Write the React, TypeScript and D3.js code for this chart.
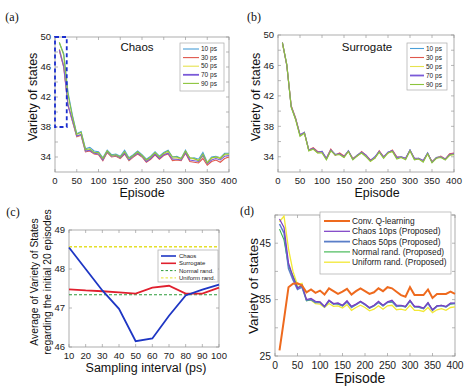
import React, { useRef, useEffect } from 'react';
import * as d3 from 'd3';

// episodes sampled every 10
const episodes = [10, 20, 30, 40, 50, 60, 70, 80, 90, 100, 110, 120, 130, 140, 150, 160, 170, 180, 190, 200,
  210, 220, 230, 240, 250, 260, 270, 280, 290, 300, 310, 320, 330, 340, 350, 360, 370, 380, 390, 400];

// (a) chaos
const chaos10 = [49.2, 47.8, 42.6, 39.6, 37.1, 37.4, 35.1, 35.3, 34.8, 34.7, 33.9, 34.9, 34.3, 34.4, 34.1, 34.9, 33.9, 34.3, 34.8, 34.3,
  33.7, 34.1, 34.7, 34.1, 34.6, 34.9, 34.0, 34.1, 33.8, 34.9, 33.8, 33.9, 33.7, 34.6, 33.3, 34.0, 34.1, 33.9, 34.5, 34.5];
const chaos30 = [48.2, 46.0, 40.8, 38.8, 36.7, 36.9, 34.7, 34.8, 34.4, 34.3, 33.5, 34.6, 34.0, 34.1, 33.8, 34.4, 33.5, 34.0, 34.4, 34.0,
  33.3, 33.7, 34.3, 33.7, 34.2, 34.4, 33.5, 33.6, 33.5, 34.5, 33.4, 33.3, 33.2, 33.8, 32.9, 33.4, 33.6, 33.3, 33.8, 34.0];
const chaos50 = [48.4, 46.3, 41.0, 38.9, 36.8, 37.0, 34.8, 35.0, 34.5, 34.4, 33.7, 34.7, 34.1, 34.2, 33.9, 34.6, 33.6, 34.1, 34.6, 34.1,
  33.5, 33.9, 34.5, 33.9, 34.4, 34.6, 33.8, 33.9, 33.7, 34.7, 33.9, 33.7, 33.6, 34.1, 33.3, 33.8, 34.0, 33.9, 34.3, 34.3];
const chaos70 = [48.3, 46.1, 40.9, 38.9, 36.8, 37.0, 34.8, 34.9, 34.5, 34.4, 33.6, 34.7, 34.1, 34.2, 33.9, 34.5, 33.6, 34.1, 34.5, 34.1,
  33.4, 33.8, 34.4, 33.8, 34.3, 34.5, 33.7, 33.7, 33.6, 34.6, 33.6, 33.5, 33.4, 34.2, 33.1, 33.6, 33.8, 33.6, 34.1, 34.2];
const chaos90 = [49.3, 47.6, 42.3, 39.4, 37.0, 37.3, 35.0, 35.1, 34.6, 34.6, 33.8, 34.8, 34.2, 34.3, 34.0, 34.7, 33.8, 34.2, 34.7, 34.2,
  33.6, 34.0, 34.6, 34.0, 34.5, 34.8, 34.0, 34.0, 33.8, 34.8, 33.9, 33.8, 33.5, 34.4, 33.2, 33.9, 34.0, 33.8, 34.4, 34.4];

// (b) surrogate
const surr10 = [49.0, 46.1, 40.6, 39.0, 36.8, 37.2, 34.8, 35.1, 34.6, 34.7, 33.7, 34.9, 34.3, 34.4, 34.0, 34.8, 33.7, 34.2, 34.6, 34.1,
  33.5, 33.9, 34.7, 33.9, 34.6, 34.8, 33.9, 34.0, 33.7, 34.9, 33.7, 33.8, 33.4, 34.5, 33.3, 33.9, 34.0, 33.6, 34.3, 34.4];
const surr30 = [49.0, 46.0, 40.7, 39.1, 36.9, 37.1, 34.9, 35.2, 34.7, 34.6, 33.8, 35.0, 34.2, 34.5, 34.1, 34.7, 33.8, 34.1, 34.7, 34.2,
  33.6, 33.8, 34.8, 34.0, 34.5, 34.9, 34.0, 33.9, 33.8, 34.8, 33.8, 33.7, 33.5, 34.4, 33.4, 33.8, 34.1, 33.7, 34.4, 34.5];
const surr50 = [48.9, 46.1, 40.6, 38.9, 36.8, 37.2, 34.8, 35.0, 34.5, 34.6, 33.7, 34.8, 34.3, 34.3, 33.9, 34.7, 33.7, 34.2, 34.5, 34.1,
  33.4, 33.9, 34.6, 33.9, 34.5, 34.7, 33.8, 34.0, 33.7, 34.8, 33.7, 33.8, 33.4, 34.4, 33.3, 33.9, 34.0, 33.6, 34.2, 34.3];
const surr70 = [49.0, 46.0, 40.6, 39.0, 36.9, 37.2, 34.9, 35.1, 34.6, 34.7, 33.8, 34.9, 34.3, 34.4, 34.0, 34.8, 33.7, 34.2, 34.6, 34.2,
  33.5, 34.0, 34.7, 34.0, 34.6, 34.8, 33.9, 34.0, 33.8, 34.9, 33.8, 33.8, 33.5, 34.5, 33.3, 33.9, 34.0, 33.7, 34.3, 34.4];
const surr90 = [49.0, 46.1, 40.5, 38.9, 36.7, 37.1, 34.8, 35.0, 34.5, 34.5, 33.6, 34.8, 34.2, 34.3, 33.9, 34.7, 33.6, 34.1, 34.5, 34.0,
  33.4, 33.8, 34.6, 33.8, 34.5, 34.7, 33.7, 33.9, 33.6, 34.8, 33.6, 33.7, 33.3, 34.4, 33.2, 33.8, 33.9, 33.6, 34.2, 34.3];

// (c) average over the initial 20 episodes
const intervals = [10, 20, 30, 40, 50, 60, 70, 80, 90, 100];
const avgChaos = [48.55, 48.0, 47.45, 46.98, 46.15, 46.22, 46.8, 47.32, 47.47, 47.6];
const avgSurrogate = [47.48, 47.45, 47.43, 47.4, 47.37, 47.52, 47.57, 47.37, 47.37, 47.52];
const normalRand = 47.34;
const uniformRand = 48.57;

// (d) comparison
const convQ = [26.0, 31.5, 37.2, 37.8, 37.9, 37.5, 36.3, 36.8, 36.2, 36.6, 35.9, 37.0, 36.5, 36.0, 36.4, 36.9, 35.9, 36.5, 37.0, 36.5,
  36.0, 36.3, 37.0, 36.5, 37.2, 37.0, 36.4, 35.8, 35.5, 37.2, 35.8, 35.8, 35.8, 36.8, 35.3, 36.0, 36.0, 36.0, 36.4, 36.0];
const propChaos10 = [49.3, 47.8, 41.5, 39.0, 37.0, 37.6, 35.0, 35.2, 34.7, 34.6, 33.8, 34.9, 34.3, 34.4, 34.0, 34.8, 33.8, 34.2, 34.7, 34.2,
  33.6, 34.0, 34.7, 34.0, 34.6, 34.9, 34.0, 34.0, 33.8, 34.9, 33.8, 33.8, 33.5, 34.5, 33.2, 33.9, 34.0, 33.8, 34.4, 34.4];
const propChaos50 = [48.4, 46.8, 40.5, 38.5, 36.8, 37.2, 34.9, 35.0, 34.5, 34.5, 33.7, 34.8, 34.2, 34.3, 33.9, 34.6, 33.6, 34.1, 34.6, 34.1,
  33.5, 33.9, 34.5, 33.9, 34.5, 34.7, 33.8, 33.9, 33.7, 34.8, 33.7, 33.7, 33.4, 34.3, 33.1, 33.8, 33.9, 33.7, 34.3, 34.3];
const propNormal = [47.5, 45.6, 41.0, 39.2, 37.2, 37.3, 34.8, 35.0, 34.5, 34.5, 33.8, 34.7, 34.3, 34.2, 33.9, 34.6, 33.7, 34.1, 34.6, 34.1,
  33.5, 33.9, 34.5, 33.9, 34.5, 34.6, 33.8, 33.9, 33.7, 34.7, 33.8, 33.6, 33.4, 34.4, 33.2, 33.9, 34.0, 33.7, 34.2, 34.3];
const propUniform = [48.8, 49.8, 44.0, 40.0, 37.6, 37.9, 34.9, 34.9, 34.3, 34.2, 33.6, 34.3, 33.8, 33.9, 33.5, 34.1, 33.1, 33.6, 34.0, 33.6,
  33.0, 33.3, 33.9, 33.3, 33.9, 34.0, 33.2, 33.3, 33.1, 34.0, 33.1, 33.1, 32.9, 33.6, 32.7, 33.2, 33.4, 33.1, 33.6, 33.7];

const psLabels = ['10 ps', '30 ps', '50 ps', '70 ps', '90 ps'];
const psColors = ['#4a9fd8', '#e0574c', '#e6e24e', '#7a5ad8', '#8cc43c'];

const FONT = '"Liberation Sans", Arial, sans-serif';
const SERIF = '"Liberation Serif", "Times New Roman", serif';
const AXIS = '#9a9a9a';

const drawFrame = (svg, x, y, o) => {
  const [x0, x1] = x.range();
  const [yb, yt] = y.range();
  const g = svg.append('g');
  g.append('rect')
    .attr('x', x0).attr('y', yt).attr('width', x1 - x0).attr('height', yb - yt)
    .attr('fill', '#fff').attr('stroke', AXIS).attr('stroke-width', 0.8);
  const tl = 3;
  o.xTicks.forEach(t => {
    g.append('line').attr('x1', x(t)).attr('x2', x(t)).attr('y1', yb).attr('y2', yb - tl).attr('stroke', AXIS).attr('stroke-width', 0.7);
    g.append('line').attr('x1', x(t)).attr('x2', x(t)).attr('y1', yt).attr('y2', yt + tl).attr('stroke', AXIS).attr('stroke-width', 0.7);
    g.append('text').attr('x', x(t)).attr('y', yb + o.xLabelOffset).attr('text-anchor', 'middle')
      .attr('font-family', FONT).attr('font-size', o.tickSize).attr('fill', '#222').text(t);
  });
  o.yTicks.forEach(t => {
    g.append('line').attr('x1', x0).attr('x2', x0 + tl).attr('y1', y(t)).attr('y2', y(t)).attr('stroke', AXIS).attr('stroke-width', 0.7);
    g.append('line').attr('x1', x1).attr('x2', x1 - tl).attr('y1', y(t)).attr('y2', y(t)).attr('stroke', AXIS).attr('stroke-width', 0.7);
  });
  o.yLabels.forEach(t => {
    g.append('text').attr('x', x0 - 4).attr('y', y(t) + o.tickSize * 0.35).attr('text-anchor', 'end')
      .attr('font-family', FONT).attr('font-size', o.tickSize).attr('fill', '#222').text(t);
  });
  return g;
};

const drawLegend = (svg, items, box) => {
  svg.append('rect')
    .attr('x', box.x).attr('y', box.y).attr('width', box.w).attr('height', box.h)
    .attr('fill', '#fff').attr('stroke', '#aaa').attr('stroke-width', 0.7);
  items.forEach((it, i) => {
    const cy = box.y + box.first + i * box.step;
    svg.append('line')
      .attr('x1', box.x + box.lx0).attr('x2', box.x + box.lx1).attr('y1', cy).attr('y2', cy)
      .attr('stroke', it.color).attr('stroke-width', it.width || 1.2)
      .attr('stroke-dasharray', it.dash || null);
    svg.append('text')
      .attr('x', box.x + box.tx).attr('y', cy + box.fs * 0.35)
      .attr('font-family', FONT).attr('font-size', box.fs).attr('fill', '#222').text(it.label);
  });
};

const Chart = () => {
  const ref = useRef(null);

  useEffect(() => {
    const svg = d3.select(ref.current);
    svg.selectAll('*').remove();

    const lineOf = (x, y, xs) => d3.line().x((d, i) => x(xs[i])).y(d => y(d));

    // ---------- (a) ----------
    const xa = d3.scaleLinear().domain([0, 400]).range([55, 229]);
    const ya = d3.scaleLinear().domain([32, 50]).range([172, 37]);
    drawFrame(svg, xa, ya, {
      xTicks: [0, 50, 100, 150, 200, 250, 300, 350, 400],
      yTicks: [34, 36, 38, 40, 42, 44, 46, 48, 50], yLabels: [34, 38, 42, 46, 50],
      tickSize: 9.5, xLabelOffset: 12,
    });
    [chaos10, chaos30, chaos50, chaos70, chaos90].forEach((s, i) => {
      svg.append('path').attr('d', lineOf(xa, ya, episodes)(s))
        .attr('fill', 'none').attr('stroke', psColors[i]).attr('stroke-width', 1.1);
    });
    svg.append('rect')
      .attr('x', xa(0)).attr('y', ya(50)).attr('width', xa(27) - xa(0)).attr('height', ya(38) - ya(50))
      .attr('fill', 'none').attr('stroke', '#1b2fd0').attr('stroke-width', 1.8).attr('stroke-dasharray', '4,3');
    svg.append('text').attr('x', 137).attr('y', 51).attr('text-anchor', 'middle')
      .attr('font-family', FONT).attr('font-size', 11.5).attr('fill', '#111').text('Chaos');
    drawLegend(svg, psLabels.map((l, i) => ({ label: l, color: psColors[i], width: i === 3 ? 1.8 : 1.1 })),
      { x: 180, y: 43, w: 44, h: 48, first: 6, step: 8.6, lx0: 3, lx1: 19, tx: 21, fs: 6.5 });
    svg.append('text').attr('transform', 'translate(37,97) rotate(-90)').attr('text-anchor', 'middle')
      .attr('font-family', FONT).attr('font-size', 12.5).attr('fill', '#111').text('Variety of states');
    svg.append('text').attr('x', 142).attr('y', 197).attr('text-anchor', 'middle')
      .attr('font-family', FONT).attr('font-size', 12.5).attr('fill', '#111').text('Episode');
    svg.append('text').attr('x', 12).attr('y', 21).attr('text-anchor', 'middle')
      .attr('font-family', SERIF).attr('font-size', 12).attr('fill', '#111').text('(a)');

    // ---------- (b) ----------
    const xb = d3.scaleLinear().domain([0, 400]).range([278, 454]);
    const yb = d3.scaleLinear().domain([32, 50]).range([172, 35]);
    drawFrame(svg, xb, yb, {
      xTicks: [0, 50, 100, 150, 200, 250, 300, 350, 400],
      yTicks: [34, 36, 38, 40, 42, 44, 46, 48, 50], yLabels: [34, 38, 42, 46, 50],
      tickSize: 9.5, xLabelOffset: 12,
    });
    [surr10, surr30, surr50, surr70, surr90].forEach((s, i) => {
      svg.append('path').attr('d', lineOf(xb, yb, episodes)(s))
        .attr('fill', 'none').attr('stroke', psColors[i]).attr('stroke-width', 1.1);
    });
    svg.append('text').attr('x', 367).attr('y', 51).attr('text-anchor', 'middle')
      .attr('font-family', FONT).attr('font-size', 11.5).attr('fill', '#111').text('Surrogate');
    drawLegend(svg, psLabels.map((l, i) => ({ label: l, color: psColors[i], width: i === 3 ? 1.8 : 1.1 })),
      { x: 407, y: 43, w: 40, h: 47, first: 5.5, step: 9, lx0: 3, lx1: 17, tx: 19, fs: 6.5 });
    svg.append('text').attr('transform', 'translate(260,97) rotate(-90)').attr('text-anchor', 'middle')
      .attr('font-family', FONT).attr('font-size', 12.5).attr('fill', '#111').text('Variety of states');
    svg.append('text').attr('x', 377).attr('y', 197).attr('text-anchor', 'middle')
      .attr('font-family', FONT).attr('font-size', 12.5).attr('fill', '#111').text('Episode');
    svg.append('text').attr('x', 254).attr('y', 21).attr('text-anchor', 'middle')
      .attr('font-family', SERIF).attr('font-size', 12).attr('fill', '#111').text('(b)');

    // ---------- (c) ----------
    const xc = d3.scaleLinear().domain([10, 100]).range([69, 219]);
    const yc = d3.scaleLinear().domain([46, 49]).range([347, 230]);
    drawFrame(svg, xc, yc, {
      xTicks: intervals, yTicks: [46, 47, 48, 49], yLabels: [46, 47, 48, 49],
      tickSize: 9.5, xLabelOffset: 12,
    });
    svg.append('line').attr('x1', xc(10)).attr('x2', xc(100)).attr('y1', yc(uniformRand)).attr('y2', yc(uniformRand))
      .attr('stroke', '#e4e02a').attr('stroke-width', 1.3).attr('stroke-dasharray', '3,2');
    svg.append('line').attr('x1', xc(10)).attr('x2', xc(100)).attr('y1', yc(normalRand)).attr('y2', yc(normalRand))
      .attr('stroke', '#2e9a3a').attr('stroke-width', 1.1).attr('stroke-dasharray', '3,2');
    svg.append('path').attr('d', lineOf(xc, yc, intervals)(avgSurrogate))
      .attr('fill', 'none').attr('stroke', '#e0202e').attr('stroke-width', 1.8);
    svg.append('path').attr('d', lineOf(xc, yc, intervals)(avgChaos))
      .attr('fill', 'none').attr('stroke', '#1e36c4').attr('stroke-width', 1.8);
    drawLegend(svg, [
      { label: 'Chaos', color: '#1e36c4', width: 1.6 },
      { label: 'Surrogate', color: '#e0202e', width: 1.6 },
      { label: 'Normal rand.', color: '#2e9a3a', width: 1, dash: '2.5,2' },
      { label: 'Uniform rand.', color: '#e4e02a', width: 1, dash: '2.5,2' },
    ], { x: 158, y: 250, w: 60, h: 32, first: 6, step: 7.3, lx0: 3, lx1: 18, tx: 21, fs: 6 });
    svg.append('text').attr('transform', 'translate(38,282) rotate(-90)').attr('text-anchor', 'middle')
      .attr('font-family', FONT).attr('font-size', 10.3).attr('fill', '#111').text('Average of Variety of States');
    svg.append('text').attr('transform', 'translate(51,282) rotate(-90)').attr('text-anchor', 'middle')
      .attr('font-family', FONT).attr('font-size', 10.3).attr('fill', '#111').text('regarding the initial 20 episodes');
    svg.append('text').attr('x', 146).attr('y', 372).attr('text-anchor', 'middle')
      .attr('font-family', FONT).attr('font-size', 12.5).attr('fill', '#111').text('Sampling interval (ps)');
    svg.append('text').attr('x', 13).attr('y', 216).attr('text-anchor', 'middle')
      .attr('font-family', SERIF).attr('font-size', 12).attr('fill', '#111').text('(c)');

    // ---------- (d) ----------
    const xd = d3.scaleLinear().domain([0, 400]).range([275, 455]);
    const yd = d3.scaleLinear().domain([25, 50]).range([356, 215]);
    drawFrame(svg, xd, yd, {
      xTicks: [0, 50, 100, 150, 200, 250, 300, 350, 400],
      yTicks: [25, 30, 35, 40, 45, 50], yLabels: [25, 35, 45],
      tickSize: 10.3, xLabelOffset: 13,
    });
    const dSeries = [
      { s: propUniform, c: '#f2e834', w: 1.3 },
      { s: propNormal, c: '#36b34a', w: 1.1 },
      { s: propChaos50, c: '#5a7ec8', w: 1.5 },
      { s: propChaos10, c: '#7a3cc4', w: 1.2 },
      { s: convQ, c: '#ee6a1e', w: 2 },
    ];
    dSeries.forEach(d => {
      svg.append('path').attr('d', lineOf(xd, yd, episodes)(d.s))
        .attr('fill', 'none').attr('stroke', d.c).attr('stroke-width', d.w);
    });
    drawLegend(svg, [
      { label: 'Conv. Q-learning', color: '#ee6a1e', width: 2 },
      { label: 'Chaos 10ps (Proposed)', color: '#7a3cc4', width: 1.2 },
      { label: 'Chaos 50ps (Proposed)', color: '#5a7ec8', width: 1.8 },
      { label: 'Normal rand. (Proposed)', color: '#36b34a', width: 1.1 },
      { label: 'Uniform rand. (Proposed)', color: '#f2e834', width: 1.3 },
    ], { x: 320, y: 212, w: 131, h: 62, first: 9, step: 10.3, lx0: 4, lx1: 30, tx: 32, fs: 8.4 });
    svg.append('text').attr('transform', 'translate(258,286) rotate(-90)').attr('text-anchor', 'middle')
      .attr('font-family', FONT).attr('font-size', 13.5).attr('fill', '#111').text('Variety of states');
    svg.append('text').attr('x', 360).attr('y', 383).attr('text-anchor', 'middle')
      .attr('font-family', FONT).attr('font-size', 14).attr('fill', '#111').text('Episode');
    svg.append('text').attr('x', 247).attr('y', 215).attr('text-anchor', 'middle')
      .attr('font-family', SERIF).attr('font-size', 12).attr('fill', '#111').text('(d)');
  }, []);

  return (
    <svg ref={ref} width={474} height={392}
      style={{ position: 'absolute', left: 0, top: 0, display: 'block', background: '#fff' }} />
  );
};

export default function App() {
  return <Chart />;
}
